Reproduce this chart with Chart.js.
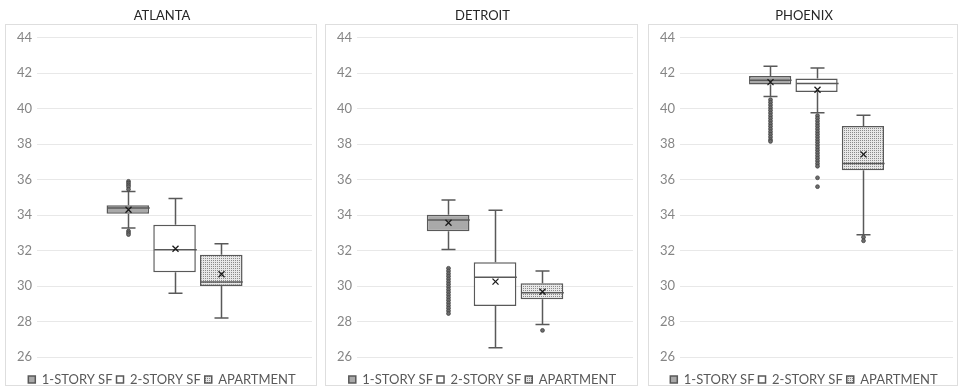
<!DOCTYPE html>
<html>
<head>
<meta charset="utf-8">
<script src="https://cdn.jsdelivr.net/npm/chart.js@4.4.1/dist/chart.umd.min.js"></script>
<style>
  body { margin: 0; background: #fff; }
  #wrap { position: relative; width: 959px; height: 390px; background: #fff; overflow: hidden; }
  .frame { position: absolute; top: 24px; height: 362px; border: 1px solid #dedede; box-sizing: border-box; }
  .box { position: absolute; top: 0; height: 390px; }
</style>
</head>
<body>
<div id="wrap"></div>
<script>
const categories = ['1-STORY SF', '2-STORY SF', 'APARTMENT'];
const cities = ['ATLANTA', 'DETROIT', 'PHOENIX'];

// one row per city, one value per category
const whiskerLow  = [[33.27, 29.59, 28.2],  [32.06, 26.52, 27.83], [40.68, 39.77, 32.89]];
const q1          = [[34.07, 30.78, 30.0],  [33.08, 28.87, 29.25], [41.36, 40.94, 36.53]];
const median      = [[34.4,  32.04, 30.22], [33.72, 30.49, 29.62], [41.6,  41.41, 36.9]];
const q3          = [[34.55, 33.45, 31.76], [34.02, 31.34, 30.15], [41.83, 41.7,  39.02]];
const whiskerHigh = [[35.32, 34.93, 32.38], [34.85, 34.27, 30.85], [42.38, 42.28, 39.62]];
const mean        = [[34.3,  32.1,  30.66], [33.57, 30.25, 29.68], [41.49, 41.06, 37.42]];

const outliersAtlanta = [
  [35.9, 35.8, 35.7, 35.6, 35.45, 33.1, 33.0, 32.9],
  [],
  []
];
const outliersDetroit = [
  [31.0, 30.85, 30.7, 30.55, 30.4, 30.25, 30.1, 29.95, 29.8, 29.65, 29.5, 29.35, 29.2,
   29.05, 28.9, 28.75, 28.6, 28.45],
  [],
  [27.5]
];
const outliersPhoenix = [
  [40.5, 40.35, 40.2, 40.05, 39.9, 39.75, 39.6, 39.45, 39.3, 39.15, 39.0, 38.85, 38.7,
   38.55, 38.4, 38.25, 38.15],
  [39.6, 39.45, 39.3, 39.15, 39.0, 38.85, 38.7, 38.55, 38.4, 38.25, 38.1, 37.95, 37.8,
   37.65, 37.5, 37.35, 37.2, 37.05, 36.9, 36.75, 36.1, 35.6],
  [32.75, 32.55]
];
const outliers = [outliersAtlanta, outliersDetroit, outliersPhoenix];

// panel frames (left, width)
const panels = [[5, 312], [325, 313], [648, 310]];

Chart.defaults.font.family = 'Lato, "Open Sans", sans-serif';

function dotPattern() {
  const c = document.createElement('canvas');
  c.width = 2; c.height = 2;
  const g = c.getContext('2d');
  g.fillStyle = '#e8e8e8'; g.fillRect(0, 0, 2, 2);
  g.fillStyle = '#8a8a8a'; g.fillRect(0, 0, 1, 1);
  return g.createPattern(c, 'repeat');
}

const boxPlugin = {
  id: 'boxExtras',
  afterLayout(chart) {
    // push the legend down next to the frame, as in the original
    chart.legend.top += 12;
    chart.legend.bottom += 12;
  },
  afterDatasetsDraw(chart) {
    const ctx = chart.ctx;
    const y = chart.scales.y;
    const c = chart.options.plugins.boxExtras.city;
    ctx.save();
    chart.data.datasets.forEach((ds, i) => {
      const bar = chart.getDatasetMeta(i).data[0];
      if (!bar) return;
      const x = Math.round(bar.x) + 0.5;
      const half = bar.width / 2;
      const cap = 7;
      ctx.strokeStyle = '#595959';
      ctx.lineWidth = 1.5;
      ctx.beginPath();
      ctx.moveTo(x, y.getPixelForValue(q3[c][i]));
      ctx.lineTo(x, y.getPixelForValue(whiskerHigh[c][i]));
      ctx.moveTo(x - cap, y.getPixelForValue(whiskerHigh[c][i]));
      ctx.lineTo(x + cap, y.getPixelForValue(whiskerHigh[c][i]));
      ctx.moveTo(x, y.getPixelForValue(q1[c][i]));
      ctx.lineTo(x, y.getPixelForValue(whiskerLow[c][i]));
      ctx.moveTo(x - cap, y.getPixelForValue(whiskerLow[c][i]));
      ctx.lineTo(x + cap, y.getPixelForValue(whiskerLow[c][i]));
      ctx.moveTo(x - half, y.getPixelForValue(median[c][i]));
      ctx.lineTo(x + half, y.getPixelForValue(median[c][i]));
      ctx.stroke();
      // mean marker
      const my = y.getPixelForValue(mean[c][i]);
      ctx.strokeStyle = '#1a1a1a';
      ctx.lineWidth = 1.3;
      ctx.beginPath();
      ctx.moveTo(x - 3, my - 3); ctx.lineTo(x + 3, my + 3);
      ctx.moveTo(x + 3, my - 3); ctx.lineTo(x - 3, my + 3);
      ctx.stroke();
      // outliers
      ctx.fillStyle = '#6e6e6e';
      ctx.strokeStyle = '#404040';
      ctx.lineWidth = 0.8;
      outliers[c][i].forEach(v => {
        ctx.beginPath();
        ctx.arc(x, y.getPixelForValue(v), 1.9, 0, Math.PI * 2);
        ctx.fill();
        ctx.stroke();
      });
    });
    ctx.restore();
  }
};

const fills = ['#a9a9a9', '#ffffff', dotPattern()];
const wrap = document.getElementById('wrap');

cities.forEach((city, c) => {
  const frame = document.createElement('div');
  frame.className = 'frame';
  frame.style.left = panels[c][0] + 'px';
  frame.style.width = panels[c][1] + 'px';
  wrap.appendChild(frame);

  const box = document.createElement('div');
  box.className = 'box';
  box.style.left = panels[c][0] + 'px';
  box.style.width = panels[c][1] + 'px';
  const cv = document.createElement('canvas');
  box.appendChild(cv);
  wrap.appendChild(box);

  new Chart(cv, {
    type: 'bar',
    data: {
      labels: [''],
      datasets: categories.map((name, i) => ({
        label: name,
        data: [[q1[c][i], q3[c][i]]],
        backgroundColor: fills[i],
        borderColor: '#595959',
        borderWidth: 1.5,
        borderSkipped: false
      }))
    },
    options: {
      responsive: true,
      maintainAspectRatio: false,
      animation: false,
      categoryPercentage: 0.51,
      barPercentage: 0.91,
      layout: { padding: { left: 7, right: 5, top: 0, bottom: 6 } },
      scales: {
        x: { display: false },
        y: {
          min: 26, max: 44,
          ticks: { stepSize: 2, color: '#858585', font: { size: 13 }, padding: 5 },
          grid: { color: '#e8e8e8', drawTicks: false },
          border: { display: false }
        }
      },
      plugins: {
        boxExtras: { city: c },
        tooltip: { enabled: false },
        title: {
          display: true,
          text: city,
          color: '#262626',
          font: { size: 13, weight: 'normal' },
          padding: { top: 8, bottom: 14 }
        },
        legend: {
          position: 'bottom',
          labels: {
            boxWidth: 7, boxHeight: 7,
            color: '#595959',
            font: { size: 13 },
            padding: 4
          }
        }
      }
    },
    plugins: [boxPlugin]
  });
});
</script>
</body>
</html>
